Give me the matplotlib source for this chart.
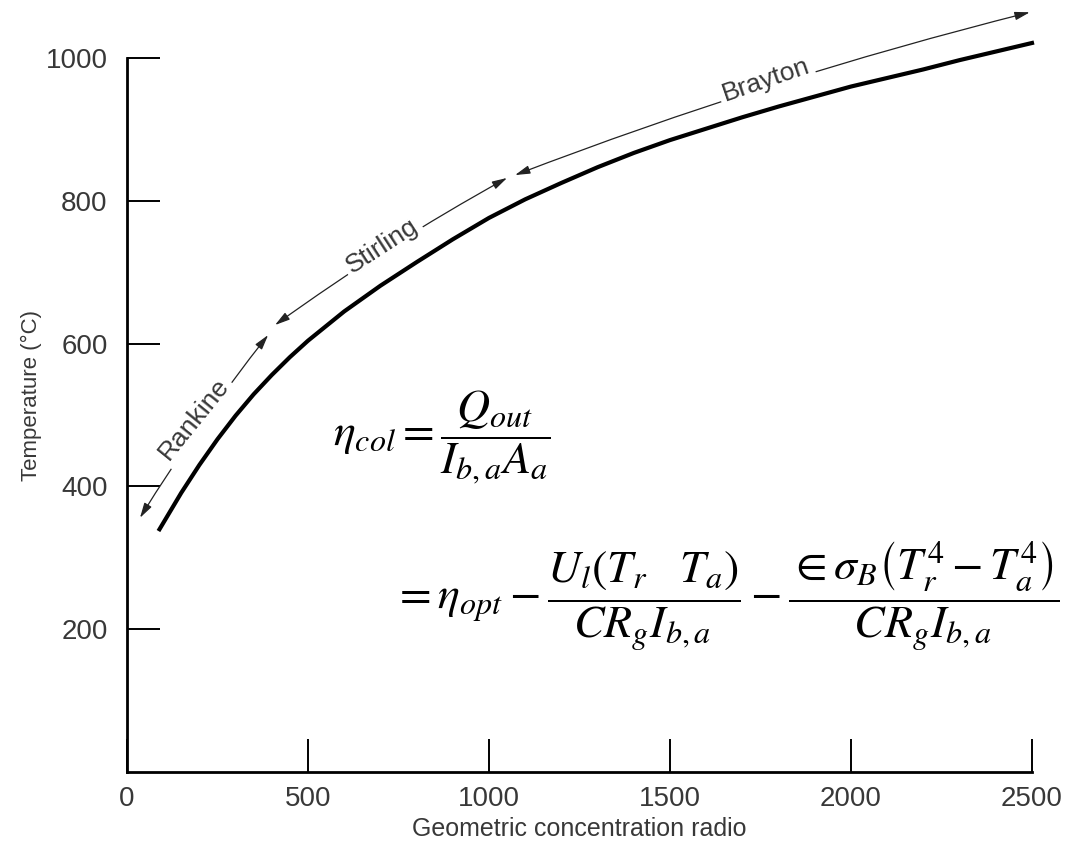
import numpy as np
import matplotlib.pyplot as plt

plt.rcParams['font.family'] = ['Liberation Sans', 'DejaVu Sans']
plt.rcParams['mathtext.fontset'] = 'stix'

# curve
ratio = [90, 150, 200, 250, 300, 350, 400, 450, 500, 600, 700, 800, 900, 1000,
         1100, 1200, 1300, 1400, 1500, 1600, 1700, 1800, 1900, 2000,
         2100, 2200, 2300, 2400, 2500]
temp = [340, 391, 430, 466, 499, 529, 556, 581, 604, 645, 681, 714, 746, 776,
        802, 825, 847, 867, 885, 901, 917, 932, 946, 960,
        972, 984, 997, 1009, 1021]

xticks = [0, 500, 1000, 1500, 2000, 2500]
yticks = [200, 400, 600, 800, 1000]

# cycle ranges: (name, start, end, text position, rotation)
cycles = [
    ("Rankine", (36, 356), (390, 612), (184, 494), 51),
    ("Stirling", (409, 626), (1050, 832), (705, 737), 33),
    ("Brayton", (1072, 836), (2494, 1064), (1765, 970), 19),
]

txtcol = "#383838"

fig = plt.figure(figsize=(10.65, 8.44), dpi=100)
ax = fig.add_axes([0.1192, 0.0853, 0.8498, 0.846])

ax.plot(ratio, temp, color="black", linewidth=3.0, clip_on=False)

ax.set_xlim(0, 2500)
ax.set_ylim(0, 1000)
ax.set_xticks(xticks)
ax.set_yticks(yticks)
ax.tick_params(direction="in", length=24, width=1.4, colors="black",
               labelcolor=txtcol, labelsize=20)
ax.tick_params(axis="y", pad=14)
ax.tick_params(axis="x", pad=10)
for s in ["top", "right"]:
    ax.spines[s].set_visible(False)
for s in ["left", "bottom"]:
    ax.spines[s].set_linewidth(2.0)

ax.set_xlabel("Geometric concentration radio", fontsize=18, color=txtcol, labelpad=4)
ax.set_ylabel("Temperature (°C)", fontsize=16, color=txtcol)
ax.yaxis.set_label_coords(-0.094, 0.528)

for name, p0, p1, pt, rot in cycles:
    ax.annotate("", xy=p1, xytext=p0, annotation_clip=False,
                arrowprops=dict(arrowstyle="<|-|>,head_length=0.9,head_width=0.25",
                                color="#222222", lw=0.9, shrinkA=0, shrinkB=0,
                                connectionstyle="arc3,rad=-0.03"))
    ax.text(pt[0], pt[1], name, rotation=rot, rotation_mode="anchor",
            ha="center", va="center", fontsize=19, color=txtcol,
            bbox=dict(boxstyle="square,pad=0.15", fc="white", ec="none"))

eq1 = r"$\eta_{col} = \dfrac{Q_{out}}{I_{b,a}A_a}$"
eq2 = (r"$= \eta_{opt} - \dfrac{U_l\left(T_r\quad T_a\right)}{CR_g I_{b,a}}"
       r" - \dfrac{\in\sigma_B\left(T_r^4 - T_a^4\right)}{CR_g I_{b,a}}$")
fig.text(333 / 1065, 1 - 437 / 844, eq1, fontsize=33, ha="left", va="center")
fig.text(393 / 1065, 1 - 597 / 844, eq2, fontsize=33, ha="left", va="center")

fig.savefig("out.png", dpi=100)
